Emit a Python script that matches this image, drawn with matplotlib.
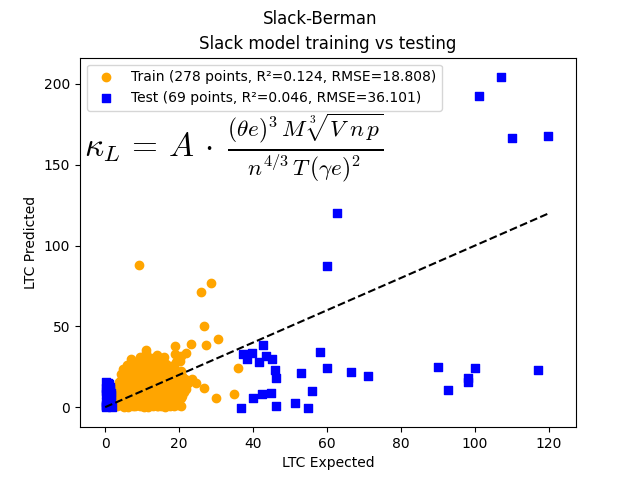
import numpy as np
import matplotlib
matplotlib.use("Agg")
import matplotlib.pyplot as plt

plt.rcParams['mathtext.fontset'] = 'cm'

# ---------------------- train points (LTC expected / predicted) ----------------------
train_x = [
    # y 0-5
    3.2, 4.1, 5.0, 5.8, 6.5, 7.3, 8.0, 8.9, 9.6, 10.4,
    11.2, 12.0, 12.9, 13.7, 14.5, 15.3, 16.1, 17.0, 17.8, 18.6,
    19.4, 3.6, 4.7, 5.5, 6.2, 7.0, 7.9, 8.5, 9.3, 10.1,
    10.9, 11.6, 12.5, 13.3, 14.1, 15.0, 15.8, 16.6, 17.4, 18.3,
    3.9, 4.4, 5.3, 6.8, 7.6, 8.3, 9.0, 9.8, 10.7, 11.4,
    12.2, 13.0, 13.9, 14.8, 15.6, 16.4, 17.2, 18.9, 19.8, 20.5,
    # y 5-10
    3.4, 4.3, 5.1, 6.0, 6.9, 7.7, 8.6, 9.4, 10.3, 11.1,
    12.0, 12.8, 13.6, 14.5, 15.4, 16.2, 17.1, 17.9, 18.8, 19.6,
    20.4, 21.3, 3.8, 4.8, 5.7, 6.5, 7.4, 8.2, 9.1, 9.9,
    10.8, 11.6, 12.5, 13.3, 14.2, 15.0, 15.9, 16.7, 17.6, 18.4,
    19.3, 20.9, 4.0, 5.4, 6.3, 7.1, 8.0, 8.8, 9.6, 10.5,
    11.3, 12.2, 13.0, 14.7, 16.5,
    # y 10-15
    3.5, 4.5, 5.4, 6.3, 7.2, 8.1, 9.0, 9.9, 10.8, 11.7,
    12.6, 13.5, 14.4, 15.3, 16.2, 17.1, 18.0, 18.9, 19.8, 20.7,
    21.6, 4.0, 5.0, 5.9, 6.8, 7.7, 8.6, 9.5, 10.4, 11.3,
    12.2, 13.1, 14.0, 14.9, 15.8, 16.7, 17.6, 18.5, 19.4, 20.3,
    3.8, 6.1, 8.3, 10.1, 12.9, 14.6, 16.0, 17.9, 19.1, 22.3,
    # y 15-20
    3.7, 4.8, 5.8, 6.8, 7.8, 8.8, 9.8, 10.8, 11.8, 12.8,
    13.8, 14.8, 15.8, 16.8, 17.8, 18.8, 19.8, 20.8, 4.3, 5.3,
    6.3, 7.3, 8.3, 9.3, 10.3, 11.3, 12.3, 13.3, 14.3, 15.3,
    16.3, 17.3, 18.3, 19.3, 21.5, 5.0, 7.0, 9.1, 11.0, 13.0,
    # y 20-25
    4.2, 5.4, 6.6, 7.8, 9.0, 10.2, 11.4, 12.6, 13.8, 15.0,
    16.2, 17.4, 18.6, 19.8, 4.8, 6.0, 7.2, 8.4, 9.6, 10.8,
    12.0, 13.2, 14.4, 15.6, 16.8, 18.0, 20.6, 8.0, 11.0, 14.0,
    # y 25-30
    6.0, 7.5, 8.8, 10.0, 11.3, 12.5, 13.9, 15.2, 16.5, 17.8,
    19.1, 9.4, 12.0, 14.6, 20.3,
    # y 30-36
    9.5, 11.0, 12.5, 14.0, 16.0, 19.0, 20.5, 13.2,
    # outliers
    9.2, 28.6, 25.8, 26.8, 30.4, 27.3, 23.1, 18.9, 11.0, 7.0,
    36.0, 26.6, 30.1, 34.9, 21.8, 23.4, 21.8, 18.7, 14.2, 24.5,
]
train_y = [
    0.5, 1.8, 0.2, 2.6, 1.1, 3.4, 0.8, 2.1, 4.0, 0.4,
    1.6, 3.0, 0.9, 2.4, 4.3, 1.3, 0.1, 2.9, 1.7, 0.6,
    3.8, 4.6, 3.2, 4.8, 0.3, 2.2, 4.4, 1.5, 0.7, 3.6,
    2.8, 0.2, 4.1, 1.9, 3.3, 0.5, 2.5, 4.7, 1.0, 2.0,
    1.4, 3.9, 2.7, 4.5, 0.9, 3.1, 2.3, 1.2, 4.9, 3.5,
    1.8, 4.2, 0.6, 2.6, 3.7, 1.1, 4.0, 3.3, 1.5, 0.8,
    5.3, 6.8, 8.2, 9.6, 5.9, 7.4, 8.9, 6.2, 9.3, 5.1,
    7.8, 9.0, 6.5, 8.4, 5.6, 7.1, 9.8, 6.0, 8.6, 7.3,
    5.4, 9.1, 7.9, 5.2, 6.6, 8.8, 9.9, 5.7, 7.6, 8.3,
    6.1, 9.4, 5.5, 7.0, 8.7, 6.4, 9.7, 5.8, 7.5, 8.0,
    6.9, 7.2, 9.5, 6.3, 8.5, 5.0, 7.7, 9.2, 6.7, 8.1,
    5.9, 9.6, 7.4, 8.9, 6.2,
    10.4, 12.1, 13.8, 11.0, 14.6, 10.7, 12.9, 14.2, 11.5, 13.3,
    10.2, 12.6, 14.9, 11.8, 13.0, 10.9, 12.3, 14.4, 11.3, 13.7,
    12.0, 14.8, 11.2, 12.7, 10.5, 13.5, 14.1, 11.7, 12.4, 10.1,
    13.9, 11.4, 12.8, 14.5, 10.8, 13.2, 11.9, 12.2, 14.0, 10.6,
    14.3, 12.5, 11.1, 13.6, 14.7, 10.3, 12.0, 13.4, 11.6, 15.0,
    15.5, 17.2, 18.9, 16.1, 19.4, 15.8, 17.7, 19.0, 16.4, 18.3,
    15.2, 17.0, 19.7, 16.6, 18.1, 15.9, 17.5, 19.2, 16.9, 18.6,
    15.3, 17.9, 19.8, 16.3, 18.4, 15.6, 17.3, 19.1, 16.0, 18.8,
    15.1, 17.6, 19.5, 16.7, 17.4, 15.7, 19.3, 16.2, 18.0, 19.6,
    20.5, 22.3, 24.1, 21.0, 23.6, 20.2, 22.8, 24.5, 21.4, 23.1,
    20.8, 22.0, 24.3, 21.7, 23.9, 20.3, 22.6, 24.8, 21.2, 23.4,
    20.6, 22.4, 24.0, 21.9, 23.3, 20.9, 22.1, 24.6, 21.5, 20.1,
    26.0, 28.2, 25.5, 27.4, 29.3, 25.9, 27.0, 28.8, 26.4, 25.3,
    27.8, 29.6, 26.7, 25.1, 28.5,
    31.0, 33.5, 30.5, 32.2, 30.8, 33.0, 31.5, 30.2,
    88.2, 77.1, 71.5, 50.4, 42.4, 38.7, 39.3, 37.6, 35.1, 29.8,
    24.0, 12.0, 5.4, 7.9, 33.3, 17.4, 11.4, 1.5, 0.6, 15.0,
]

# ---------------------- test points ----------------------
test_x = [
    # column near zero
    0.1, 0.3, 0.5, 0.2, 0.8, 1.0, 0.4, 1.2, 0.6, 1.5,
    0.9, 0.2, 1.1, 0.7, 1.6, 0.3, 1.3, 0.5, 0.8, 1.8,
    0.1, 1.4, 0.6, 1.0, 0.4, 1.7, 0.9, 0.2, 1.2, 0.5,
    1.5, 0.7, 0.3, 1.1, 0.6,
    # middle
    62.7, 60.0, 42.7, 37.3, 39.8, 38.4, 43.4, 45.0, 41.6, 45.8,
    46.1, 53.0, 58.2, 60.0, 66.5, 71.1, 89.9, 92.8, 98.0, 98.0,
    99.9, 116.9, 56.0, 40.1, 42.5, 44.9, 36.6, 46.1, 51.4, 54.9,
    # top
    106.9, 101.0, 109.9, 119.8,
]
test_y = [
    0.5, 1.2, 2.0, 3.5, 0.8, 4.2, 5.0, 6.1, 2.8, 1.5,
    7.3, 8.0, 9.2, 10.5, 3.0, 11.8, 12.5, 13.4, 14.8, 0.3,
    15.6, 5.5, 6.8, 2.2, 4.4, 8.6, 1.0, 9.9, 11.0, 12.9,
    7.7, 3.9, 0.0, 14.1, 6.3,
    119.9, 87.6, 38.2, 33.1, 33.5, 29.6, 31.6, 30.0, 27.9, 23.2,
    18.2, 21.3, 34.3, 24.4, 21.9, 19.5, 25.0, 10.8, 18.2, 15.7,
    24.4, 23.2, 10.2, 5.8, 8.3, 8.9, -0.4, 0.9, 2.3, -0.4,
    204.2, 192.6, 166.3, 167.6,
]

train_label = "Train (278 points, R²=0.124, RMSE=18.808)"
test_label = "Test (69 points, R²=0.046, RMSE=36.101)"
ideal = [0, 120]

fig, ax = plt.subplots(figsize=(6.4, 4.8), dpi=100)
ax.scatter(train_x, train_y, color='orange', label=train_label)
ax.scatter(test_x, test_y, color='blue', marker='s', label=test_label)
ax.plot(ideal, ideal, 'k--')

# Slack formula
ax.text(0.008, 0.757,
        r'$\kappa_L \,=\, A\,\cdot\;\frac{(\theta e)^3 \,M\; \sqrt[3]{V\;n\,p}}{n^{4/3}\,T\,(\gamma e)^2}$',
        transform=ax.transAxes, fontsize=24, va='center', ha='left')

ax.set_xlim(-6.8, 127.3)
ax.set_ylim(-12.4, 216.3)
ax.legend(loc='upper left')
ax.set_xlabel("LTC Expected")
ax.set_ylabel("LTC Predicted")
fig.suptitle("Slack-Berman")
ax.set_title("Slack model training vs testing")

plt.savefig("out.png")
